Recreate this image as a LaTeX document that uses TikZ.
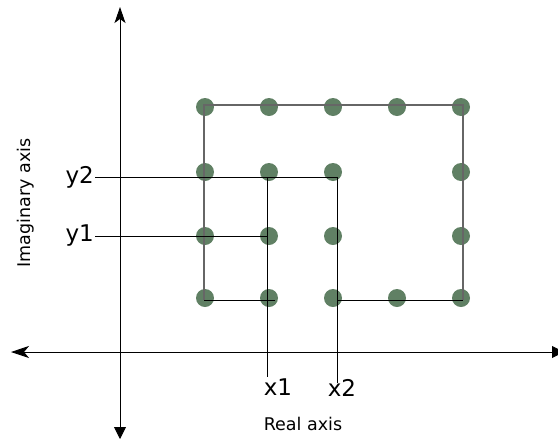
\documentclass[tikz,border=0pt]{standalone}
\usepackage{fontspec}
\setmainfont{DejaVu Sans}
\usetikzlibrary{arrows.meta}
\definecolor{dotgreen}{RGB}{96,128,100}
\tikzset{
  axisline/.style={line width=0.9pt},
  guide/.style={line width=0.9pt},
  outline/.style={line width=1.4pt, black!60},
  lattice/.style={fill=dotgreen},
  tick/.style={font=\fontsize{23}{27}\selectfont, inner sep=1pt},
  axislabel/.style={font=\fontsize{17.5}{21}\selectfont}
}
\begin{document}
\begin{tikzpicture}[x=1pt,y=-1pt]
                \useasboundingbox (0,0) rectangle (558,440);
                % axes
                \coordinate (T) at (120,7);
                \coordinate (B) at (120,439);
                \coordinate (L) at (11,352);
                \coordinate (R) at (564,352);
                \draw[axisline, {Stealth[length=16pt,width=11pt,inset=4pt]}-{Triangle[length=12pt,width=12pt]}] (T) -- (B);
                \draw[axisline, {Stealth[length=18pt,width=12pt,inset=5pt]}-{Triangle[length=12pt,width=12pt]}] (L) -- (R);
                % lattice points
                \foreach \px in {205,269,333,397,461} {
                    \fill[lattice] (\px,107) circle (9);
                    \fill[lattice] (\px,298) circle (9);
                }
                \foreach \px in {205,269,333,461} {
                    \fill[lattice] (\px,172) circle (9);
                    \fill[lattice] (\px,236) circle (9);
                }
                % outer rectangle
                \coordinate (P1) at (204,105);
                \coordinate (P2) at (463,105);
                \coordinate (P3) at (463,300);
                \coordinate (P4) at (204,300);
                \draw[outline] (P4) -- (P1) -- (P2) -- (P3);
                % guide lines
                \node[tick, anchor=east] (y2) at (95,177) {y2};
                \node[tick, anchor=east] (y1) at (95,236) {y1};
                \node[tick, anchor=north] (x1) at (278,378) {x1};
                \node[tick, anchor=north] (x2) at (342,378) {x2};
                \coordinate (C1) at (337,177);
                \coordinate (C2) at (267,177);
                \coordinate (C3) at (267,236);
                \coordinate (C4) at (337,300);
                \coordinate (C5) at (275,300);
                \coordinate (D1) at (267,377);
                \coordinate (D2) at (337,383);
                \draw[guide] (y2.east) -- (C1) -- (C4) -- (P3);
                \draw[guide] (y1.east) -- (C3);
                \draw[guide] (C2) -- (D1);
                \draw[guide] (C1) -- (D2);
                \draw[guide] (P4) -- (C5);
                % axis titles
                \node[axislabel] (re) at (303,424) {Real axis};
                \node[axislabel, rotate=90] (im) at (26,203) {Imaginary axis};
\end{tikzpicture}
\end{document}
